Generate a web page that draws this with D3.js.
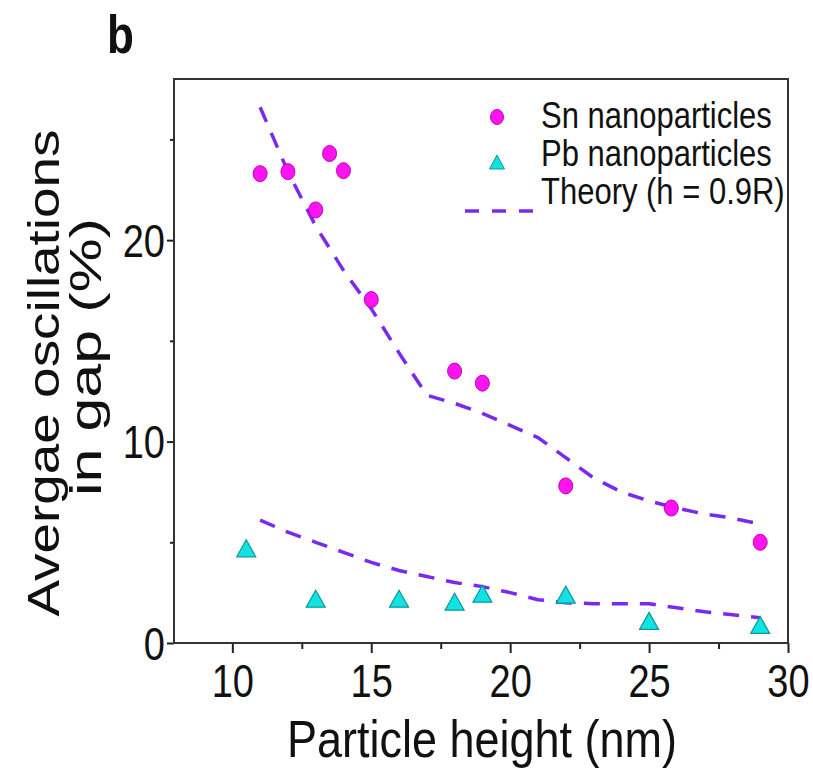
<!DOCTYPE html>
<html>
<head>
<meta charset="utf-8">
<script src="https://cdn.jsdelivr.net/npm/d3@7"></script>
<style>
  body { margin: 0; background: #fff; }
  text { font-family: "Liberation Sans", Arial, Helvetica, sans-serif; fill: #111; }
</style>
</head>
<body>
<script>
// data
const xTicks = [10, 15, 20, 25, 30];
const xMinor = [12.5, 17.5, 22.5, 27.5];
const yTicks = [0, 10, 20];
const yMinor = [5, 15, 25];

const snHeight = [11, 12, 13, 13.5, 14, 15, 18, 19, 22, 25.8, 29];
const snGap = [23.3, 23.4, 21.5, 24.3, 23.45, 17.05, 13.5, 12.9, 7.8, 6.7, 5.0];
const pbHeight = [10.5, 13, 16, 18, 19, 22, 25, 29];
const pbGap = [4.7, 2.2, 2.2, 2.05, 2.45, 2.4, 1.1, 0.9];

const theoryHeight = [11, 12, 13, 14, 15, 16, 17, 18, 19, 20, 21, 22, 23, 24, 25, 26, 27, 28, 29];
const theorySn = [26.6, 23.4, 20.7, 18.5, 16.6, 14.4, 12.3, 11.9, 11.4, 10.8, 10.2, 9.2, 8.2, 7.5, 7.05, 6.7, 6.4, 6.2, 5.9];
const theoryPb = [6.1, 5.5, 5.0, 4.5, 4.0, 3.6, 3.3, 3.0, 2.8, 2.5, 2.15, 2.0, 1.95, 1.95, 1.95, 1.75, 1.55, 1.4, 1.25];

const legendLabels = ["Sn nanoparticles", "Pb nanoparticles", "Theory (h = 0.9R)"];

const W = 813, H = 769;
const mLeft = 174, mRight = 788, mTop = 79, mBottom = 643;
const S = 1.2; // picture is stretched vertically
const purple = "#7a2af0";

var svg = d3.select("body").append("svg")
  .attr("width", W)
  .attr("height", H);

var x = d3.scaleLinear().domain([7.9, 30]).range([mLeft, mRight]);
var y = d3.scaleLinear().domain([0, 28]).range([mBottom, mTop]);

// axes
var gx = svg.append("g").attr("transform", "translate(0," + mBottom + ")")
  .call(d3.axisBottom(x).tickValues(xTicks).tickSize(10).tickSizeOuter(0));
gx.selectAll("text")
  .attr("y", null).attr("dy", null)
  .attr("transform", "translate(0,54) scale(1," + S + ")")
  .style("font-size", "38px");

svg.append("g").attr("transform", "translate(0," + mBottom + ")")
  .call(d3.axisBottom(x).tickValues(xMinor).tickSize(6).tickSizeOuter(0).tickFormat(""));

var gy = svg.append("g").attr("transform", "translate(" + mLeft + ",0)")
  .call(d3.axisLeft(y).tickValues(yTicks).tickSize(7).tickSizeOuter(0));
gy.selectAll("text")
  .attr("x", null).attr("dy", null)
  .attr("transform", "translate(-9,16) scale(1," + S + ")")
  .style("font-size", "38px");

svg.append("g").attr("transform", "translate(" + mLeft + ",0)")
  .call(d3.axisLeft(y).tickValues(yMinor).tickSize(4).tickSizeOuter(0).tickFormat(""));

svg.selectAll(".domain").remove();
svg.selectAll(".tick line").attr("stroke", "#222").attr("stroke-width", 2);

svg.append("rect")
  .attr("x", mLeft).attr("y", mTop)
  .attr("width", mRight - mLeft).attr("height", mBottom - mTop)
  .attr("fill", "none").attr("stroke", "#333").attr("stroke-width", 2);

// theory lines
var line = d3.line().x(d => x(d[0])).y(d => y(d[1]));
[theorySn, theoryPb].forEach(function(vals) {
  svg.append("path")
    .datum(theoryHeight.map((h, i) => [h, vals[i]]))
    .attr("d", line)
    .attr("fill", "none")
    .attr("stroke", purple)
    .attr("stroke-width", 3.5)
    .attr("stroke-dasharray", "16,12");
});

// markers
function tri(w, h) {
  return "M0," + (-h / 2) + "L" + (w / 2) + "," + (h / 2) + "L" + (-w / 2) + "," + (h / 2) + "Z";
}

svg.append("g").selectAll("path")
  .data(pbHeight.map((h, i) => [h, pbGap[i]]))
  .enter().append("path")
  .attr("d", tri(19, 17))
  .attr("transform", d => "translate(" + x(d[0]) + "," + y(d[1]) + ")")
  .attr("fill", "#11e3e3")
  .attr("stroke", "#0a9a9a")
  .attr("stroke-width", 1.2);

svg.append("g").selectAll("ellipse")
  .data(snHeight.map((h, i) => [h, snGap[i]]))
  .enter().append("ellipse")
  .attr("cx", d => x(d[0]))
  .attr("cy", d => y(d[1]))
  .attr("rx", 7).attr("ry", 8)
  .attr("fill", "#ff14f0")
  .attr("stroke", "#c000c0")
  .attr("stroke-width", 1);

// legend
var lg = svg.append("g");
var legendY = [128, 166, 204];
lg.selectAll("text")
  .data(legendLabels)
  .enter().append("text")
  .attr("transform", (d, i) => "translate(541," + legendY[i] + ") scale(1,1.22)")
  .style("font-size", "31px")
  .text(d => d);

lg.append("ellipse")
  .attr("cx", 497).attr("cy", 117)
  .attr("rx", 6.5).attr("ry", 7.5)
  .attr("fill", "#ff14f0").attr("stroke", "#c000c0");
lg.append("path")
  .attr("d", tri(15, 14))
  .attr("transform", "translate(497,162)")
  .attr("fill", "#11e3e3").attr("stroke", "#0a9a9a");
lg.append("line")
  .attr("x1", 465).attr("x2", 533)
  .attr("y1", 211).attr("y2", 211)
  .attr("stroke", purple).attr("stroke-width", 3.5)
  .attr("stroke-dasharray", "14,13");

// axis titles
svg.append("text")
  .attr("x", 482).attr("y", 757)
  .attr("text-anchor", "middle")
  .attr("textLength", 390)
  .attr("lengthAdjust", "spacingAndGlyphs")
  .style("font-size", "52px")
  .text("Particle height (nm)");

svg.append("text")
  .attr("transform", "translate(59,373) rotate(-90)")
  .attr("text-anchor", "middle")
  .attr("textLength", 487)
  .attr("lengthAdjust", "spacingAndGlyphs")
  .style("font-size", "44px")
  .text("Avergae oscillations");

svg.append("text")
  .attr("transform", "translate(101,357) rotate(-90)")
  .attr("text-anchor", "middle")
  .attr("textLength", 278)
  .attr("lengthAdjust", "spacingAndGlyphs")
  .style("font-size", "44px")
  .text("in gap (%)");

svg.append("text")
  .attr("transform", "translate(107,53) scale(1," + S + ")")
  .style("font-size", "44px")
  .style("font-weight", "bold")
  .text("b");
</script>
</body>
</html>
